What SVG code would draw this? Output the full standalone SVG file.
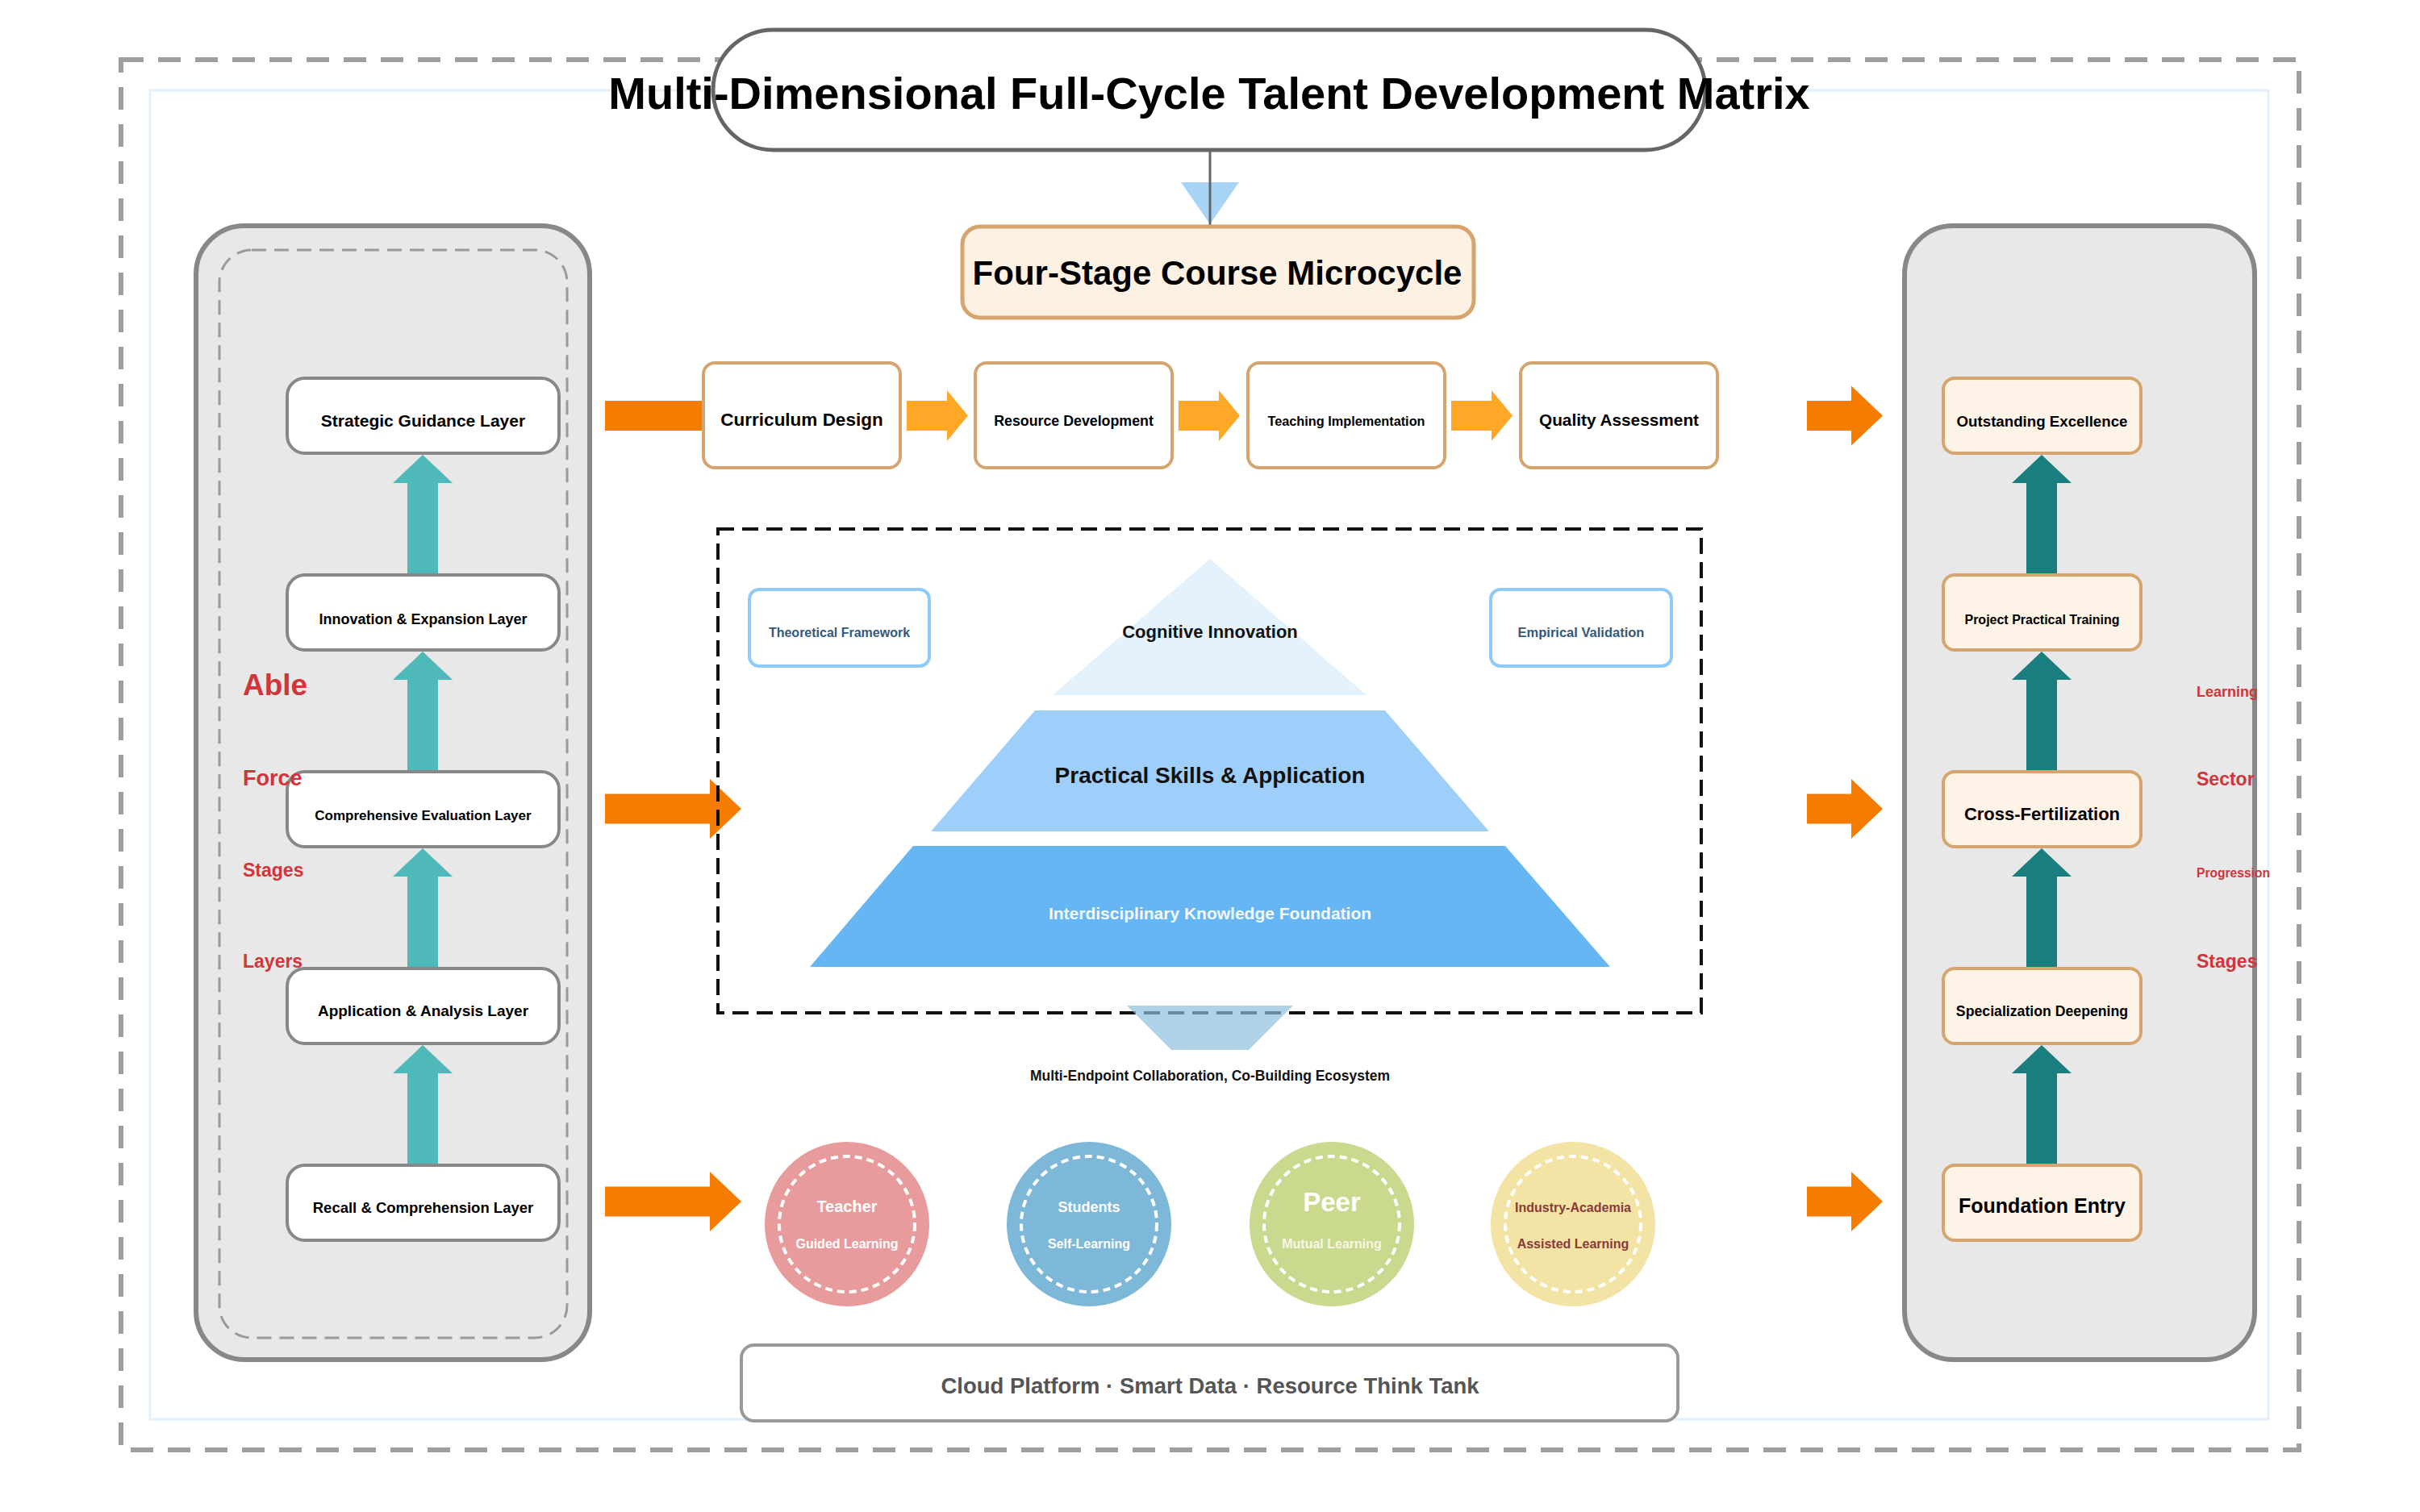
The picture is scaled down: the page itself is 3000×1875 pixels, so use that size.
<svg xmlns="http://www.w3.org/2000/svg" xmlns:xlink="http://www.w3.org/1999/xlink" width="3000" height="1875" viewBox="0 0 3000 1875">
<style>
.t{font-family:"Liberation Sans",Arial,sans-serif;font-weight:bold;text-anchor:middle}
.red{font-family:"Liberation Sans",Arial,sans-serif;font-weight:bold;fill:#d1343a}
.lay{fill:#fff;stroke:#888;stroke-width:4}
.stg{fill:#fdf3e6;stroke:#d6a56f;stroke-width:4}
.flow{fill:#fff;stroke:#d6a56f;stroke-width:4}
.panel{fill:#e8e8e8}
.pline{fill:none;stroke:#888;stroke-width:6}
.side{fill:#fff;stroke:#90caf9;stroke-width:4}
.ring{fill:none;stroke:#fff;stroke-width:4;stroke-dasharray:9 6}
</style>
<defs>
<path id="up" d="M0,0 L37,35 L19,35 L19,150 L-19,150 L-19,35 L-37,35 Z"/>
<path id="bigL" d="M0,-18.5 L130,-18.5 L130,-37 L169,0 L130,37 L130,18.5 L0,18.5 Z"/>
<path id="bigR" d="M0,-18.5 L55,-18.5 L55,-37 L94,0 L55,37 L55,18.5 L0,18.5 Z"/>
<path id="sm" d="M0,-18.5 L50,-18.5 L50,-31.5 L76,0 L50,31.5 L50,18.5 L0,18.5 Z"/>
</defs>
<rect width="3000" height="1875" fill="#fff"/>
<g id="frame">
<rect x="150" y="74" width="2700" height="1724" fill="none" stroke="#9e9e9e" stroke-width="6" stroke-dasharray="28 18"/>
<rect x="186" y="112" width="2626" height="1648" fill="none" stroke="#e3f0fb" stroke-width="3"/>
</g>
<g id="left-panel">
<rect class="panel" x="243" y="280" width="488" height="1406" rx="60"/>
<rect x="272" y="310" width="431" height="1349" rx="40" fill="none" stroke="#9a9a9a" stroke-width="3" stroke-dasharray="18 10"/>
<rect class="pline" x="243" y="280" width="488" height="1406" rx="60"/>
</g>
<g id="right-panel">
<rect class="panel" x="2361" y="280" width="434" height="1406" rx="60"/>
</g>
<g id="connectors">
<polygon points="1464,226 1536,226 1500,278" fill="#a8d4f5"/>
<line x1="1500" y1="186" x2="1500" y2="279" stroke="#666" stroke-width="3"/>
<g fill="#4fb8b8">
<use href="#up" x="524" y="564"/>
<use href="#up" x="524" y="808"/>
<use href="#up" x="524" y="1052"/>
<use href="#up" x="524" y="1296"/>
</g>
<g fill="#1b7e7e">
<use href="#up" x="2531" y="564"/>
<use href="#up" x="2531" y="808"/>
<use href="#up" x="2531" y="1052"/>
<use href="#up" x="2531" y="1296"/>
</g>
<g fill="#f57c00">
<use href="#bigL" x="750" y="515.5"/>
<use href="#bigL" x="750" y="1003"/>
<use href="#bigL" x="750" y="1490"/>
<use href="#bigR" x="2240" y="515.5"/>
<use href="#bigR" x="2240" y="1003"/>
<use href="#bigR" x="2240" y="1490"/>
</g>
<g fill="#ffa726">
<use href="#sm" x="1124" y="515.5"/>
<use href="#sm" x="1461" y="515.5"/>
<use href="#sm" x="1799" y="515.5"/>
</g>
</g>
<g id="title">
<rect x="884" y="37" width="1230" height="149" rx="74.5" fill="#fff" stroke="#666" stroke-width="5"/>
<text class="t" x="1499" y="135" font-size="56">Multi-Dimensional Full-Cycle Talent Development Matrix</text>
</g>
<g id="microcycle">
<rect x="1193" y="281" width="634" height="113" rx="22" fill="#fdf1e3" stroke="#d6a56f" stroke-width="5"/>
<text class="t" x="1509" y="353" font-size="42">Four-Stage Course Microcycle</text>
</g>
<g id="layer-strategic"><rect class="lay" x="356" y="469" width="337" height="93" rx="22"/><text class="t" x="524.5" y="529" font-size="21">Strategic Guidance Layer</text></g>
<g id="layer-innovation"><rect class="lay" x="356" y="713" width="337" height="93" rx="22"/><text class="t" x="524.5" y="774" font-size="18">Innovation &amp; Expansion Layer</text></g>
<g id="layer-evaluation"><rect class="lay" x="356" y="957" width="337" height="93" rx="22"/><text class="t" x="524.5" y="1017" font-size="17">Comprehensive Evaluation Layer</text></g>
<g id="layer-application"><rect class="lay" x="356" y="1201" width="337" height="93" rx="22"/><text class="t" x="524.5" y="1260" font-size="19">Application &amp; Analysis Layer</text></g>
<g id="layer-recall"><rect class="lay" x="356" y="1445" width="337" height="93" rx="22"/><text class="t" x="524.5" y="1504" font-size="18.5">Recall &amp; Comprehension Layer</text></g>
<g id="left-labels">
<text class="red" x="301" y="862" font-size="37">Able</text>
<text class="red" x="301" y="974" font-size="27">Force</text>
<text class="red" x="301" y="1087" font-size="23">Stages</text>
<text class="red" x="301" y="1200" font-size="23">Layers</text>
</g>
<g id="stage-excellence"><rect class="stg" x="2409" y="469" width="245" height="93" rx="14"/><text class="t" x="2531.5" y="529" font-size="18.7">Outstanding Excellence</text></g>
<g id="stage-project"><rect class="stg" x="2409" y="713" width="245" height="93" rx="14"/><text class="t" x="2531.5" y="774" font-size="16">Project Practical Training</text></g>
<g id="stage-cross"><rect class="stg" x="2409" y="957" width="245" height="93" rx="14"/><text class="t" x="2531.5" y="1017" font-size="22">Cross-Fertilization</text></g>
<g id="stage-special"><rect class="stg" x="2409" y="1201" width="245" height="93" rx="14"/><text class="t" x="2531.5" y="1260" font-size="17.7">Specialization Deepening</text></g>
<g id="stage-foundation"><rect class="stg" x="2409" y="1445" width="245" height="93" rx="14"/><text class="t" x="2531.5" y="1504" font-size="25">Foundation Entry</text></g>
<g id="right-panel-border"><rect class="pline" x="2361" y="280" width="434" height="1406" rx="60"/></g>
<g id="right-labels">
<text class="red" x="2723" y="864" font-size="18">Learning</text>
<text class="red" x="2723" y="974" font-size="23">Sector</text>
<text class="red" x="2723" y="1088" font-size="15.6">Progression</text>
<text class="red" x="2723" y="1200" font-size="23">Stages</text>
</g>
<g id="flow-curriculum"><rect class="flow" x="872" y="450" width="244" height="130" rx="14"/><text class="t" x="994" y="528" font-size="22.5">Curriculum Design</text></g>
<g id="flow-resource"><rect class="flow" x="1209" y="450" width="244" height="130" rx="14"/><text class="t" x="1331" y="528" font-size="17.8">Resource Development</text></g>
<g id="flow-teaching"><rect class="flow" x="1547" y="450" width="244" height="130" rx="14"/><text class="t" x="1669" y="528" font-size="16.3">Teaching Implementation</text></g>
<g id="flow-quality"><rect class="flow" x="1885" y="450" width="244" height="130" rx="14"/><text class="t" x="2007" y="528" font-size="20.8">Quality Assessment</text></g>
<g id="pyramid">
<polygon points="1500,693 1694,862 1305,862" fill="#e3f2fd"/>
<polygon points="1283,881 1717,881 1846,1031 1154,1031" fill="#9ecffa"/>
<polygon points="1132,1049 1866,1049 1996,1199 1004,1199" fill="#67b6f4"/>
<text class="t" x="1500" y="791" font-size="22" fill="#111">Cognitive Innovation</text>
<text class="t" x="1500" y="971" font-size="28" fill="#111">Practical Skills &amp; Application</text>
<text class="t" x="1500" y="1140" font-size="21" fill="#f4faff">Interdisciplinary Knowledge Foundation</text>
</g>
<g id="theory"><rect class="side" x="929" y="731" width="223" height="95" rx="12"/><text class="t" x="1040.5" y="790" font-size="16" fill="#35597a">Theoretical Framework</text></g>
<g id="empirical"><rect class="side" x="1848" y="731" width="224" height="95" rx="12"/><text class="t" x="1960" y="790" font-size="16.5" fill="#35597a">Empirical Validation</text></g>
<g id="pyramid-frame">
<rect x="890" y="656" width="1219" height="600" fill="none" stroke="#111" stroke-width="4" stroke-dasharray="20 10"/>
<polygon points="1397,1247 1603,1247 1548,1302 1452,1302" fill="#8fbfdd" opacity="0.7"/>
</g>
<g id="ecosystem-label"><text class="t" x="1500" y="1340" font-size="17.5" fill="#111">Multi-Endpoint Collaboration, Co-Building Ecosystem</text></g>
<g id="teacher"><circle cx="1050" cy="1518" r="102" fill="#e89b9c"/><circle class="ring" cx="1050" cy="1518" r="84"/><text class="t" x="1050" y="1503" font-size="20" fill="#fff">Teacher</text><text class="t" x="1050" y="1548" font-size="16" fill="#fff">Guided Learning</text></g>
<g id="students"><circle cx="1350" cy="1518" r="102" fill="#7db8d9"/><circle class="ring" cx="1350" cy="1518" r="84"/><text class="t" x="1350" y="1503" font-size="18" fill="#fff">Students</text><text class="t" x="1350" y="1548" font-size="16" fill="#fff">Self-Learning</text></g>
<g id="peer"><circle cx="1651" cy="1518" r="102" fill="#c9d98e"/><circle class="ring" cx="1651" cy="1518" r="84"/><text class="t" x="1651" y="1502" font-size="33" fill="#fff">Peer</text><text class="t" x="1651" y="1548" font-size="16" fill="#f7f7e6">Mutual Learning</text></g>
<g id="industry"><circle cx="1950" cy="1518" r="102" fill="#f3e3a4"/><circle class="ring" cx="1950" cy="1518" r="84"/><text class="t" x="1950" y="1503" font-size="16" fill="#8b3a3a">Industry-Academia</text><text class="t" x="1950" y="1548" font-size="16" fill="#8b3a3a">Assisted Learning</text></g>
<g id="platform"><rect x="919" y="1668" width="1161" height="94" rx="16" fill="#fff" stroke="#999" stroke-width="4"/><text class="t" x="1500" y="1728" font-size="27.5" fill="#555">Cloud Platform · Smart Data · Resource Think Tank</text></g>
</svg>
